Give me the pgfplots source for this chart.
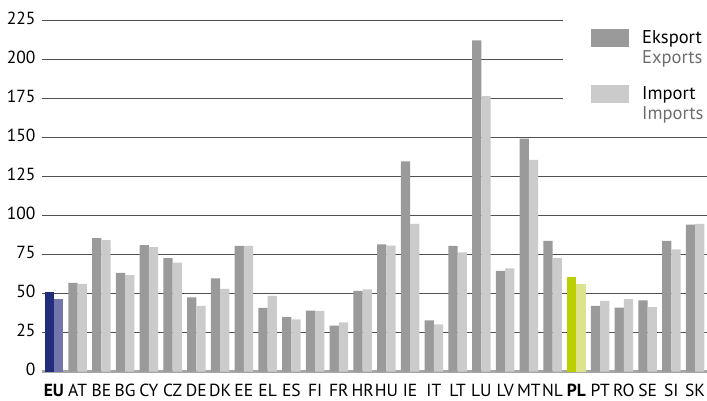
\documentclass[border=0pt]{standalone}
\usepackage{pgfplots}
\pgfplotsset{compat=1.18}
\usepackage{fontspec}
\setmainfont{PT Sans}

\definecolor{expgray}{HTML}{9A9A9A}
\definecolor{impgray}{HTML}{CBCBCB}
\definecolor{euexp}{HTML}{222D7B}
\definecolor{euimp}{HTML}{7375AD}
\definecolor{plexp}{HTML}{BCCF00}
\definecolor{plimp}{HTML}{DCE38C}
\definecolor{gridc}{HTML}{505050}
\definecolor{basec}{HTML}{A6A6A6}
\definecolor{subtxt}{HTML}{6D6D6D}

\begin{document}
\begin{tikzpicture}[x=1pt,y=1pt]
\useasboundingbox (0,0) rectangle (707,401);
\begin{axis}[
  at={(42pt,29.3pt)}, anchor=south west,
  scale only axis, width=665pt, height=351.4pt,
  xmin=-0.5, xmax=27.5, ymin=0, ymax=225,
  axis x line*=bottom, axis y line*=left,
  axis line style={draw=none},
  major tick length=0pt,
  clip=false,
  ytick={0,25,...,225},
  xtick={0,...,27},
  xticklabels={\textbf{EU},AT,BE,BG,CY,CZ,DE,DK,EE,EL,ES,FI,FR,HR,HU,IE,IT,LT,LU,LV,MT,NL,\textbf{PL},PT,RO,SE,SI,SK},
  /pgf/number format/assume math mode=true,
  tick label style={font=\fontsize{17.5}{21}\selectfont},
  yticklabel style={xshift=-3pt, yshift=2pt},
  xticklabel style={yshift=-9pt, inner xsep=0pt},
  every axis plot/.append style={draw=none},
]
% grid lines (behind the bars)
\foreach \v in {175,200,225}{
  \edef\tmp{\noexpand\draw[gridc, line width=1.3pt] (axis cs:-0.5,\v) -- (axis cs:21.45,\v);}\tmp
}
\foreach \v in {25,50,...,150}{
  \edef\tmp{\noexpand\draw[gridc, line width=1.3pt] (axis cs:-0.5,\v) -- (axis cs:27.5,\v);}\tmp
}
\draw[basec, line width=2.4pt] (axis cs:-0.5,0) -- (axis cs:27.5,0);

% exports
\addplot[ybar, bar width=9.3pt, bar shift=-4.65pt, fill=expgray] coordinates {
  (1,56.8) (2,85.6) (3,63.2) (4,81.1) (5,72.8) (6,47.6) (7,59.8) (8,80.5)
  (9,40.8) (10,35.0) (11,39.1) (12,29.5) (13,51.7) (14,81.6) (15,134.7)
  (16,32.9) (17,80.5) (18,212.2) (19,64.5) (20,149.2) (21,83.7)
  (23,42.1) (24,41.0) (25,45.7) (26,83.7) (27,94.1)};
% imports
\addplot[ybar, bar width=9.3pt, bar shift=4.65pt, fill=impgray] coordinates {
  (1,56.2) (2,84.3) (3,61.9) (4,79.8) (5,69.8) (6,42.1) (7,53.0) (8,80.5)
  (9,48.5) (10,33.5) (11,39.0) (12,31.6) (13,52.7) (14,80.7) (15,94.6)
  (16,30.3) (17,76.4) (18,176.5) (19,66.2) (20,135.6) (21,72.8)
  (23,45.3) (24,46.5) (25,41.4) (26,78.4) (27,94.6)};
% EU
\addplot[ybar, bar width=9.3pt, bar shift=-4.65pt, fill=euexp] coordinates {(0,51.0)};
\addplot[ybar, bar width=9.3pt, bar shift=4.65pt, fill=euimp] coordinates {(0,46.5)};
% PL
\addplot[ybar, bar width=9.3pt, bar shift=-4.65pt, fill=plexp] coordinates {(22,60.6)};
\addplot[ybar, bar width=9.3pt, bar shift=4.65pt, fill=plimp] coordinates {(22,56.2)};
\end{axis}

% legend
\fill[expgray] (590.7,354.3) rectangle (628.7,372);
\fill[impgray] (590.7,298.3) rectangle (628.7,316);
\begin{scope}[every node/.style={anchor=base west, inner sep=0pt, font=\fontsize{18.5}{21}\selectfont}]
\node at (642,357.5) {Eksport};
\node[text=subtxt] at (642,337.5) {Exports};
\node at (642,301) {Import};
\node[text=subtxt] at (642,281) {Imports};
\end{scope}
\end{tikzpicture}
\end{document}
